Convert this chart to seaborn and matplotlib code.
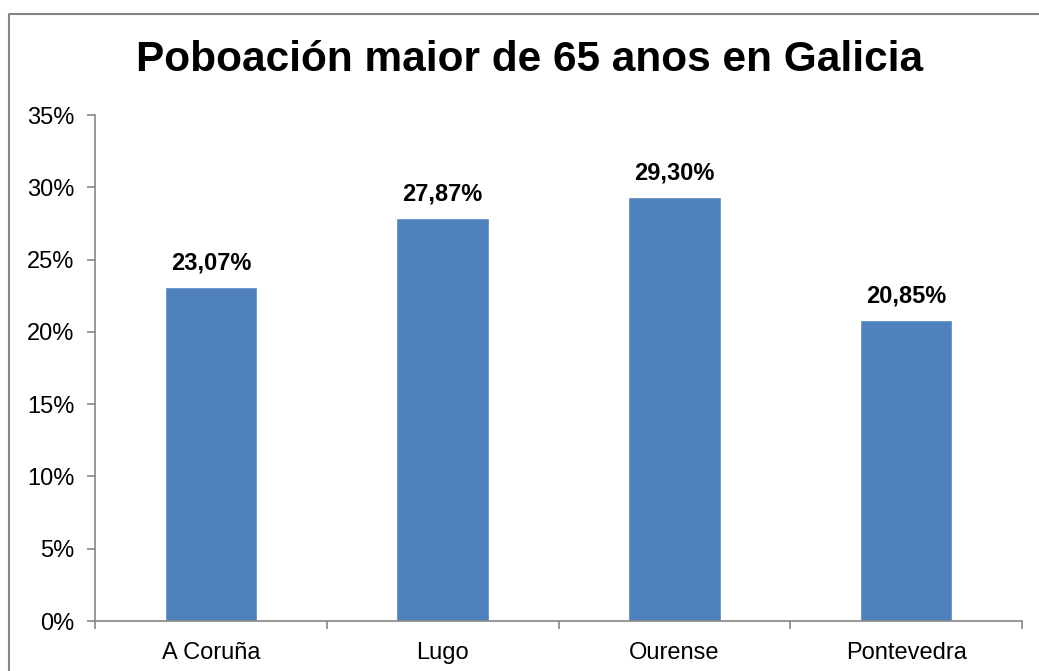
import matplotlib
matplotlib.use("Agg")
import matplotlib.pyplot as plt
import seaborn as sns
import pandas as pd
from matplotlib.lines import Line2D
from matplotlib.ticker import FuncFormatter, MultipleLocator

categories = ["A Coruña", "Lugo", "Ourense", "Pontevedra"]
values = [23.07, 27.87, 29.30, 20.85]
title = "Poboación maior de 65 anos en Galicia"

sns.set_theme(style="white")
plt.rcParams["font.family"] = ["Liberation Sans", "DejaVu Sans"]

W, H = 1039, 671
fig = plt.figure(figsize=(W / 100, H / 100), dpi=100)
ax = fig.add_axes([95 / W, 1 - 621 / H, (1022 - 95) / W, (621 - 115) / H])

df = pd.DataFrame({"cat": categories, "val": values})
sns.barplot(data=df, x="cat", y="val", color="#4F81BD", saturation=1, width=0.4, ax=ax)

ax.set_ylim(0, 35)
ax.set_xlim(-0.5, len(categories) - 0.5)
ax.yaxis.set_major_locator(MultipleLocator(5))
ax.yaxis.set_major_formatter(FuncFormatter(lambda v, p: f"{int(round(v))}%"))
ax.set_xlabel("")
ax.set_ylabel("")

for s in ["top", "right"]:
    ax.spines[s].set_visible(False)
for s in ["left", "bottom"]:
    ax.spines[s].set_color("#868686")
    ax.spines[s].set_linewidth(1.2)

ax.tick_params(axis="y", which="major", left=True, length=6, width=1.2, color="#868686",
               labelsize=17, labelcolor="black", pad=9, direction="out")
ax.tick_params(axis="x", which="major", bottom=False, labelsize=17, labelcolor="black", pad=9)
ax.set_xticks(range(len(categories)))
ax.set_xticklabels(categories)
ax.set_xticks([i - 0.5 for i in range(len(categories) + 1)], minor=True)
ax.tick_params(axis="x", which="minor", bottom=True, length=6, width=1.2, color="#868686", direction="out")

for i, v in enumerate(values):
    ax.annotate(f"{v:.2f}%".replace(".", ","), xy=(i, v), xytext=(0, 9), textcoords="offset points",
                ha="center", va="bottom", fontsize=17, fontweight="bold", color="black")

fig.text(530 / W, 1 - 60 / H, title, ha="center", va="center", fontsize=30.5, fontweight="bold", color="black")

fig.add_artist(Line2D([8.5 / W, 8.5 / W, 1.0], [0.0, 1 - 13.5 / H, 1 - 13.5 / H],
                      transform=fig.transFigure, color="#868686", linewidth=1.5))

fig.savefig("out.png", dpi=100, facecolor="white")
